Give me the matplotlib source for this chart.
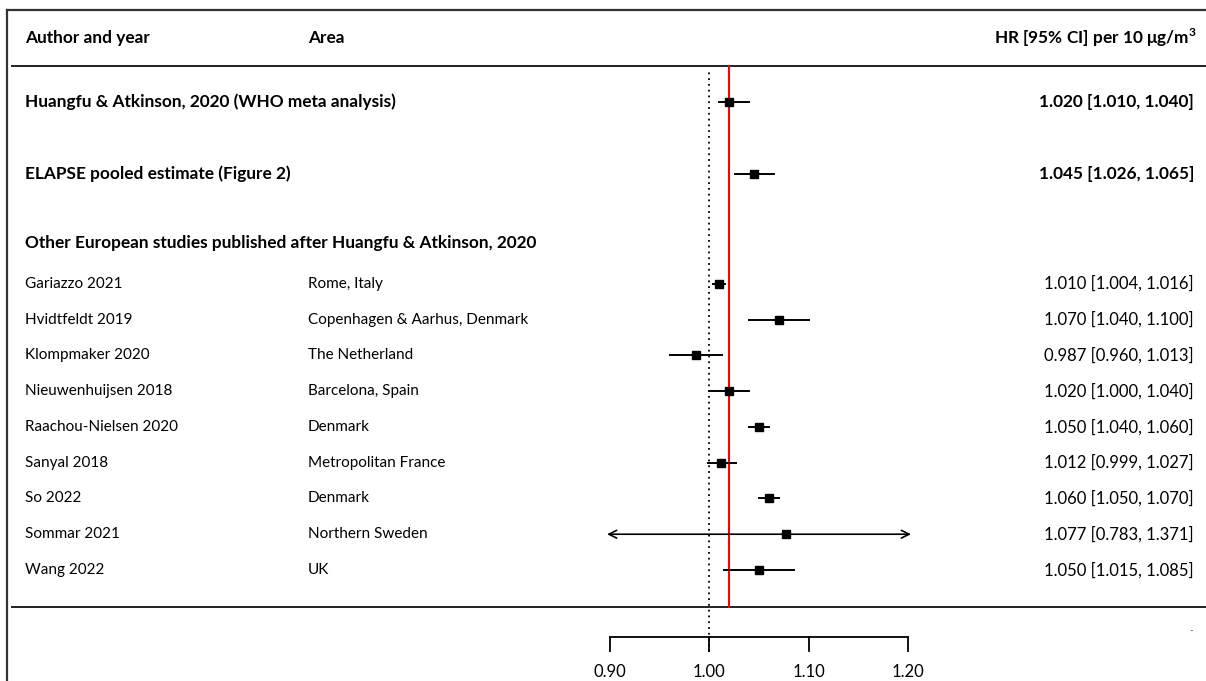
import matplotlib
matplotlib.use("Agg")
import matplotlib.pyplot as plt
import numpy as np

plt.rcParams['font.family'] = ['Lato', 'DejaVu Sans']

# summary estimates (bold rows)
summary_labels = ["Huangfu & Atkinson, 2020 (WHO meta analysis)",
                  "ELAPSE pooled estimate (Figure 2)"]
summary_hr = [1.020, 1.045]
summary_lo = [1.010, 1.026]
summary_hi = [1.040, 1.065]

# individual studies
authors = ["Gariazzo 2021", "Hvidtfeldt 2019", "Klompmaker 2020",
           "Nieuwenhuijsen 2018", "Raachou-Nielsen 2020", "Sanyal 2018",
           "So 2022", "Sommar 2021", "Wang 2022"]
areas = ["Rome, Italy", "Copenhagen & Aarhus, Denmark", "The Netherland",
         "Barcelona, Spain", "Denmark", "Metropolitan France",
         "Denmark", "Northern Sweden", "UK"]
hr = [1.010, 1.070, 0.987, 1.020, 1.050, 1.012, 1.060, 1.077, 1.050]
lo = [1.004, 1.040, 0.960, 1.000, 1.040, 0.999, 1.050, 0.783, 1.015]
hi = [1.016, 1.100, 1.013, 1.040, 1.060, 1.027, 1.070, 1.371, 1.085]

group_label = "Other European studies published after Huangfu & Atkinson, 2020"
ticks = [0.90, 1.00, 1.10, 1.20]
pooled_ref = 1.02

# layout
x_left, x_right = 0.2859, 1.500
y_top, y_bot = 16.94, -2.105
study_y = np.arange(len(authors), 0, -1)
summary_y = [14.09, 12.08]
group_y = 10.15
x_author = 0.2859 + 25 / 993.3
x_area = 0.2859 + 308 / 993.3
x_hr = 0.2859 + 1194 / 993.3
clip_lo, clip_hi = 0.897, 1.203

fig = plt.figure(figsize=(12.06, 6.81), dpi=100)
ax = fig.add_axes([0, 0, 1, 1])
ax.set_xlim(x_left, x_right)
ax.set_ylim(y_bot, y_top)
ax.axis("off")

fs = 11          # plain text
fs_num = 12      # numbers
fs_b = 12.4      # bold text

# frame lines
x_frame = 0.2859 + 7 / 993.3
ax.plot([x_frame, x_right], [16.66, 16.66], color="#333333", lw=1.6)
ax.plot([x_frame, x_frame], [y_bot, 16.66], color="#333333", lw=1.6)
x_inner = 0.2859 + 12 / 993.3
ax.plot([x_inner, x_right], [15.1, 15.1], color="#222222", lw=1.4)
ax.plot([x_inner, x_right], [-0.03, -0.03], color="#222222", lw=1.4)

# reference lines
ax.plot([1.0, 1.0], [-1.3, 14.98], color="black", lw=1.3, ls=(0, (1, 2.2)))
ax.plot([pooled_ref, pooled_ref], [-0.03, 15.1], color="red", lw=1.5)

# column headers
ax.text(x_author, 15.88, "Author and year", fontsize=fs_b, fontweight="bold", va="center")
ax.text(x_area, 15.88, "Area", fontsize=fs_b, fontweight="bold", va="center")
ax.text(x_hr + 0.003, 15.88, r"HR [95% CI] per 10 $\mathregular{\mu}$g/m$^\mathregular{3}$",
        fontsize=fs_b, fontweight="bold", va="center", ha="right")

# summary rows
for lab, y, m, l, h in zip(summary_labels, summary_y, summary_hr, summary_lo, summary_hi):
    ax.text(x_author, y, lab, fontsize=fs_b, fontweight="bold", va="center")
    ax.plot([l, h], [y, y], color="black", lw=1.4)
    ax.plot(m, y, marker="s", color="black", ms=6.2)
    ax.text(x_hr, y, f"{m:.3f} [{l:.3f}, {h:.3f}]", fontsize=fs_b,
            fontweight="bold", va="center", ha="right")

ax.text(x_author, group_y, group_label, fontsize=fs_b, fontweight="bold", va="center")

# study rows
for a, ar, y, m, l, h in zip(authors, areas, study_y, hr, lo, hi):
    ax.text(x_author, y, a, fontsize=fs, va="center")
    ax.text(x_area, y, ar, fontsize=fs, va="center")
    cl, ch = max(l, clip_lo), min(h, clip_hi)
    if l < clip_lo or h > clip_hi:
        ax.annotate("", xy=(cl, y), xytext=(ch, y),
                    arrowprops=dict(arrowstyle="<->", color="black", lw=1.2,
                                    shrinkA=0, shrinkB=0, mutation_scale=14))
    else:
        ax.plot([cl, ch], [y, y], color="black", lw=1.4)
    ax.plot(m, y, marker="s", color="black", ms=6.2)
    ax.text(x_hr, y, f"{m:.3f} [{l:.3f}, {h:.3f}]", fontsize=fs_num,
            va="center", ha="right")

# x axis
ax_y = -0.87
ax.plot([ticks[0], ticks[-1]], [ax_y, ax_y], color="black", lw=1.3)
for t in ticks:
    ax.plot([t, t], [ax_y, ax_y - 0.4], color="black", lw=1.3)
    ax.text(t, -1.85, f"{t:.2f}", fontsize=fs_num, ha="center", va="center")

ax.text(0.2859 + 1191 / 993.3, -0.7, "-", fontsize=7, color="#555555",
        ha="center", va="center")

fig.savefig("out.png", dpi=100)
